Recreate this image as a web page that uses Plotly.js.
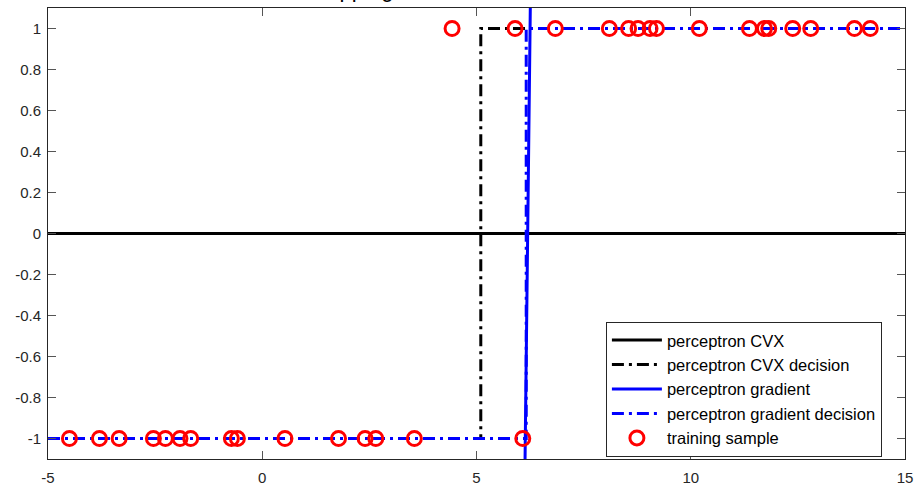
<!DOCTYPE html>
<html>
<head>
<meta charset="utf-8">
<script src="https://cdn.plot.ly/plotly-3.0.1.min.js"></script>
<style>html,body{margin:0;padding:0;background:#fff;}#chart{width:916px;height:487px;}</style>
</head>
<body>
<div id="chart"></div>
<script>
// training samples
var negX = [-4.50, -3.80, -3.34, -2.54, -2.26, -1.92, -1.67, -0.72, -0.58, 0.53, 1.78, 2.40, 2.65, 3.55, 6.08];
var posX = [4.43, 5.90, 6.84, 8.10, 8.55, 8.77, 9.05, 9.20, 10.20, 11.37, 11.72, 11.82, 12.38, 12.80, 13.82, 14.19];
var negY = negX.map(function(){return -1;});
var posY = posX.map(function(){return 1;});

// perceptron CVX (nearly flat linear output)
var cvxX = [-5, 15];
var cvxY = [0, 0];
// CVX decision step
var cvxDecX = [-5, 5.10, 5.10, 15];
var cvxDecY = [-1, -1, 1, 1];
// perceptron gradient (steep linear output)
var gradX = [-5, 15];
var gradY = [-201.5, 158.5];
// gradient decision step
var gradDecX = [-5, 6.16, 6.16, 15];
var gradDecY = [-1, -1, 1, 1];

var dashdot = "12px,5px,3px,5px";
var traces = [
  {x: cvxX, y: cvxY, mode: 'lines', name: 'perceptron CVX', line: {color: '#000000', width: 3}},
  {x: cvxDecX, y: cvxDecY, mode: 'lines', name: 'perceptron CVX decision', line: {color: '#000000', width: 3, dash: dashdot}},
  {x: gradX, y: gradY, mode: 'lines', name: 'perceptron gradient', line: {color: '#0000ff', width: 3}},
  {x: gradDecX, y: gradDecY, mode: 'lines', name: 'perceptron gradient decision', line: {color: '#0000ff', width: 3, dash: dashdot}},
  {x: negX.concat(posX), y: negY.concat(posY), mode: 'markers', name: 'training sample',
   marker: {symbol: 'circle-open', size: 14, color: '#ff0000', line: {width: 3, color: '#ff0000'}}}
];

var axisCommon = {
  showgrid: false, zeroline: false, showline: true, linecolor: '#262626', linewidth: 1,
  mirror: 'ticks', ticks: 'inside', ticklen: 8, tickcolor: '#555555', tickwidth: 1,
  tickfont: {family: 'Liberation Sans, Arial, sans-serif', size: 15, color: '#262626'}
};

var layout = {
  width: 916, height: 487,
  margin: {l: 48, r: 11, t: 8, b: 28},
  paper_bgcolor: '#ffffff', plot_bgcolor: '#ffffff',
  showlegend: true,
  xaxis: Object.assign({}, axisCommon, {range: [-5, 15], tickvals: [-5, 0, 5, 10, 15], ticktext: ['-5', '0', '5', '10', '15'], ticklabelstandoff: 5}),
  yaxis: Object.assign({}, axisCommon, {range: [-1.1, 1.1], tickvals: [-1, -0.8, -0.6, -0.4, -0.2, 0, 0.2, 0.4, 0.6, 0.8, 1],
    ticktext: ['-1', '-0.8', '-0.6', '-0.4', '-0.2', '0', '0.2', '0.4', '0.6', '0.8', '1'], ticklabelstandoff: 3}),
  legend: {x: 0.651, y: 0.304, xanchor: 'left', yanchor: 'top', bgcolor: '#ffffff', bordercolor: '#262626', borderwidth: 1,
    font: {family: 'Liberation Sans, Arial, sans-serif', size: 16.5, color: '#000000'}, itemwidth: 50, tracegroupgap: 0},
  annotations: [{
    text: 'Non-overlapping classes in one dimension', xref: 'paper', yref: 'paper', x: 0.456, y: 1,
    xanchor: 'center', yanchor: 'bottom', yshift: 4, showarrow: false,
    font: {family: 'Liberation Sans, Arial, sans-serif', size: 22, color: '#000000'}
  }]
};

Plotly.newPlot('chart', traces, layout, {displayModeBar: false, staticPlot: true});
</script>
</body>
</html>
